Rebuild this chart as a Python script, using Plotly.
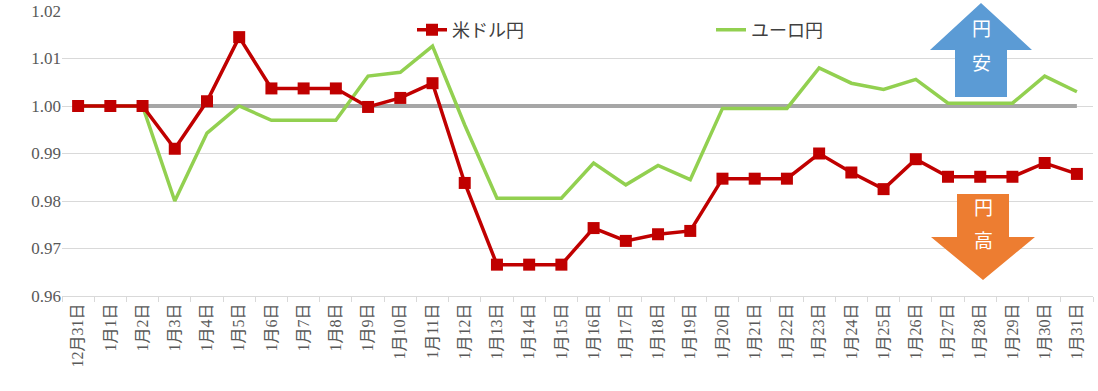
import plotly.graph_objects as go

dates = ["12月31日"] + [f"1月{d}日" for d in range(1, 32)]

usd_jpy = [1.000, 1.000, 1.000, 0.991, 1.001, 1.0145, 1.0037, 1.0037, 1.0037, 0.9998,
           1.0017, 1.0048, 0.9838, 0.9666, 0.9666, 0.9666, 0.9743, 0.9716, 0.9730, 0.9737,
           0.9847, 0.9847, 0.9847, 0.9900, 0.9860, 0.9825, 0.9888, 0.9851, 0.9851, 0.9851,
           0.9880, 0.9857]
eur_jpy = [1.000, 1.000, 1.000, 0.980, 0.9943, 1.000, 0.997, 0.997, 0.997, 1.0063,
           1.0071, 1.0126, 0.996, 0.9806, 0.9806, 0.9806, 0.988, 0.9834, 0.9875, 0.9845,
           0.9995, 0.9995, 0.9995, 1.008, 1.0048, 1.0035, 1.0056, 1.0006, 1.0006, 1.0006,
           1.0063, 1.003]
baseline = [1.0] * len(dates)

y_ticks = [0.96, 0.97, 0.98, 0.99, 1.00, 1.01, 1.02]
y_labels = ["0.96", "0.97", "0.98", "0.99", "1.00", "1.01", "1.02"]

W, H = 1098, 391
ML, MR, MT, MB = 62, 5, 11, 95
PW, PH = W - ML - MR, H - MT - MB

def px(x, y):
    return ((x - ML) / PW, (H - MB - y) / PH)

def path(pts):
    s = ""
    for i, (x, y) in enumerate(pts):
        a, b = px(x, y)
        s += ("M" if i == 0 else "L") + f"{a:.5f},{b:.5f} "
    return s + "Z"

FONT = "'Liberation Serif', 'Times New Roman', 'Noto Sans CJK JP', serif"

fig = go.Figure()
fig.add_trace(go.Scatter(x=dates, y=baseline, mode="lines",
                         line=dict(color="#A6A6A6", width=4), showlegend=False, hoverinfo="skip"))
fig.add_trace(go.Scatter(x=dates, y=eur_jpy, mode="lines", name="ユーロ円",
                         line=dict(color="#92D050", width=3.5)))
fig.add_trace(go.Scatter(x=dates, y=usd_jpy, mode="lines+markers", name="米ドル円",
                         line=dict(color="#C00000", width=3.5),
                         marker=dict(symbol="square", size=12, color="#C00000")))

up = [(981, 3), (1032, 50), (1007, 50), (1007, 97), (955, 97), (955, 50), (930, 50)]
down = [(957, 194), (1009, 194), (1009, 237), (1035, 237), (983, 280), (931, 237), (957, 237)]
fig.add_shape(type="path", xref="paper", yref="paper", path=path(up),
              fillcolor="#5B9BD5", line=dict(width=0), layer="above")
fig.add_shape(type="path", xref="paper", yref="paper", path=path(down),
              fillcolor="#ED7D31", line=dict(width=0), layer="above")

for (x, y, t) in [(981, 30, "円"), (981, 63, "安"), (983, 209, "円"), (983, 241, "高")]:
    a, b = px(x, y)
    fig.add_annotation(x=a, y=b, xref="paper", yref="paper", text=t, showarrow=False,
                       xanchor="center", yanchor="middle",
                       font=dict(family=FONT, size=19, color="white"))

fig.update_layout(
    width=W, height=H,
    margin=dict(l=ML, r=MR, t=MT, b=MB, autoexpand=False),
    paper_bgcolor="white", plot_bgcolor="white",
    font=dict(family=FONT, color="#595959"),
    legend=dict(orientation="h", x=(412 - ML) / PW, xanchor="left", y=px(0, 30)[1], yanchor="middle",
                traceorder="reversed", entrywidth=254, entrywidthmode="pixels",
                font=dict(size=18, color="#404040"), bgcolor="rgba(0,0,0,0)"),
    xaxis=dict(type="category", tickangle=-90, tickfont=dict(size=16, color="#595959"),
               showgrid=False, showline=True, linecolor="#D9D9D9", linewidth=1,
               ticks="outside", tickson="boundaries", ticklen=5, tickcolor="#D9D9D9",
               range=[-0.5, len(dates) - 0.5], automargin=False),
    yaxis=dict(range=[0.96, 1.02], tickvals=y_ticks, ticktext=y_labels,
               tickfont=dict(size=17, color="#595959"), showgrid=True, gridcolor="#D9D9D9",
               gridwidth=1, zeroline=False, ticks="", ticklen=0, automargin=False),
    showlegend=True,
)

fig.write_html("out.html")
